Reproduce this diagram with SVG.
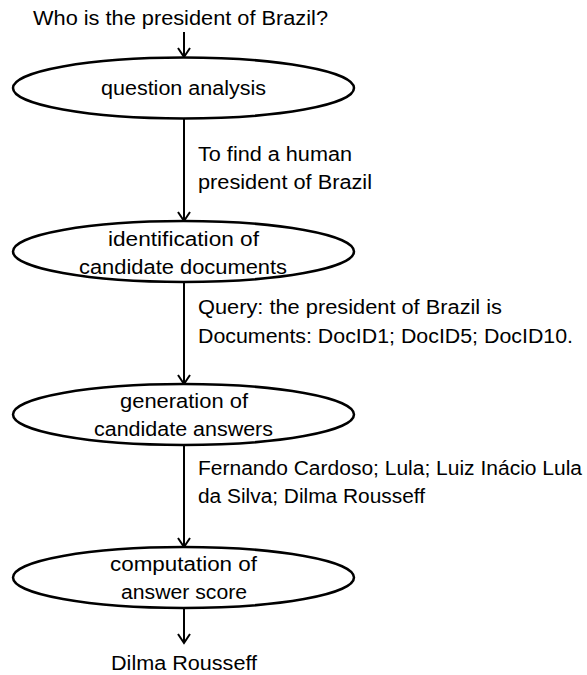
<svg xmlns="http://www.w3.org/2000/svg" width="587" height="675" viewBox="0 0 587 675">
  <style>
    .node { fill: #ffffff; stroke: #000000; stroke-width: 2.5; }
    .edge { stroke: #000000; stroke-width: 2; fill: none; }
    text { font-family: "Liberation Sans", Arial, sans-serif; font-size: 20px; fill: #000000; }
  </style>
  <defs>
    <marker id="arrow" viewBox="0 0 12 14" refX="10" refY="7" markerWidth="12" markerHeight="14" markerUnits="userSpaceOnUse" orient="auto">
      <path d="M1,1 L10,7 L1,13" fill="none" stroke="#000000" stroke-width="2"/>
    </marker>
  </defs>
  <rect x="0" y="0" width="587" height="675" fill="#ffffff"/>

  <g id="connectors">
    <line class="edge" x1="184" y1="32" x2="184" y2="57" marker-end="url(#arrow)"/>
    <line class="edge" x1="184" y1="118.5" x2="184" y2="221" marker-end="url(#arrow)"/>
    <line class="edge" x1="184" y1="282" x2="184" y2="384" marker-end="url(#arrow)"/>
    <line class="edge" x1="184" y1="445" x2="184" y2="547" marker-end="url(#arrow)"/>
    <line class="edge" x1="184" y1="608" x2="184" y2="643" marker-end="url(#arrow)"/>
  </g>

  <g id="question">
    <text x="33" y="25" textLength="295" lengthAdjust="spacingAndGlyphs">Who is the president of Brazil?</text>
  </g>

  <g id="node-question-analysis">
    <ellipse class="node" cx="183.5" cy="88" rx="170.5" ry="30.5"/>
    <text x="101" y="95" textLength="165" lengthAdjust="spacingAndGlyphs">question analysis</text>
  </g>

  <g id="label-1">
    <text x="198" y="161" textLength="154" lengthAdjust="spacingAndGlyphs">To find a human</text>
    <text x="198" y="189" textLength="174" lengthAdjust="spacingAndGlyphs">president of Brazil</text>
  </g>

  <g id="node-identification">
    <ellipse class="node" cx="183.5" cy="251.5" rx="170.5" ry="30.5"/>
    <text x="108" y="246" textLength="151" lengthAdjust="spacingAndGlyphs">identification of</text>
    <text x="79" y="274" textLength="208" lengthAdjust="spacingAndGlyphs">candidate documents</text>
  </g>

  <g id="label-2">
    <text x="198" y="314" textLength="304" lengthAdjust="spacingAndGlyphs">Query: the president of Brazil is</text>
    <text x="198" y="343" textLength="375" lengthAdjust="spacingAndGlyphs">Documents: DocID1; DocID5; DocID10.</text>
  </g>

  <g id="node-generation">
    <ellipse class="node" cx="183.5" cy="414.5" rx="170.5" ry="30.5"/>
    <text x="120" y="408" textLength="128" lengthAdjust="spacingAndGlyphs">generation of</text>
    <text x="94" y="436" textLength="179" lengthAdjust="spacingAndGlyphs">candidate answers</text>
  </g>

  <g id="label-3">
    <text x="198" y="475" textLength="384" lengthAdjust="spacingAndGlyphs">Fernando Cardoso; Lula; Luiz Inácio Lula</text>
    <text x="198" y="503" textLength="227" lengthAdjust="spacingAndGlyphs">da Silva; Dilma Rousseff</text>
  </g>

  <g id="node-computation">
    <ellipse class="node" cx="183.5" cy="577.5" rx="170.5" ry="30.5"/>
    <text x="110" y="571" textLength="147" lengthAdjust="spacingAndGlyphs">computation of</text>
    <text x="121" y="599" textLength="126" lengthAdjust="spacingAndGlyphs">answer score</text>
  </g>

  <g id="answer">
    <text x="111" y="670" textLength="146" lengthAdjust="spacingAndGlyphs">Dilma Rousseff</text>
  </g>
</svg>
